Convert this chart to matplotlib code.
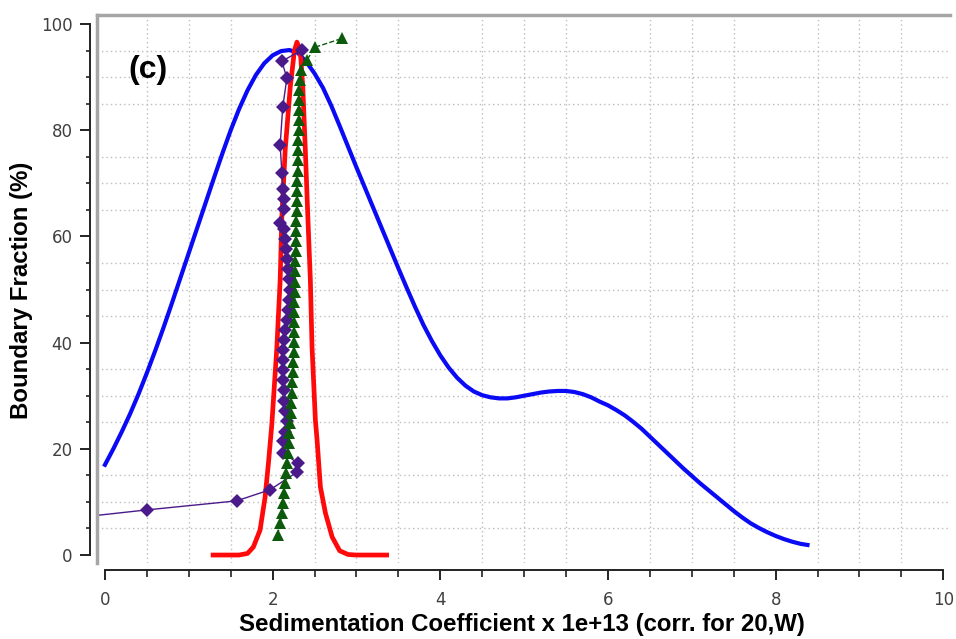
import matplotlib
matplotlib.use("Agg")
import matplotlib.pyplot as plt
from matplotlib.ticker import MultipleLocator
from matplotlib.lines import Line2D

# ---------------- data ----------------
blue_x = [0.0, 0.1, 0.2, 0.3, 0.4, 0.5, 0.6, 0.7, 0.8, 0.9, 1.0, 1.1, 1.2, 1.3, 1.4,
          1.5, 1.6, 1.7, 1.8, 1.9, 2.0, 2.1, 2.2, 2.3, 2.4, 2.5, 2.6, 2.7, 2.8, 2.9,
          3.0, 3.1, 3.2, 3.3, 3.4, 3.5, 3.6, 3.7, 3.8, 3.9, 4.0, 4.1, 4.2, 4.3, 4.4,
          4.5, 4.6, 4.7, 4.8, 4.9, 5.0, 5.1, 5.2, 5.3, 5.4, 5.5, 5.6, 5.7, 5.8, 5.9,
          6.0, 6.1, 6.2, 6.3, 6.4, 6.5, 6.6, 6.7, 6.8, 6.9, 7.0, 7.1, 7.2, 7.3, 7.4,
          7.5, 7.6, 7.7, 7.8, 7.9, 8.0, 8.1, 8.2, 8.3, 8.38]
blue_y = [17.0, 20.0, 23.2, 26.6, 30.3, 34.3, 38.5, 42.9, 47.5, 52.2, 56.9, 61.6, 66.3,
          71.0, 75.6, 80.0, 84.0, 87.5, 90.4, 92.6, 94.1, 94.9, 95.1, 94.6, 92.9, 90.7,
          88.0, 84.6, 80.8, 76.9, 73.0, 69.2, 65.4, 61.6, 57.8, 54.0, 50.3, 46.7, 43.3,
          40.3, 37.6, 35.3, 33.4, 31.9, 30.8, 30.1, 29.7, 29.5, 29.5, 29.7, 30.0, 30.3,
          30.6, 30.8, 30.9, 30.9, 30.7, 30.3, 29.7, 28.9, 28.2, 27.3, 26.3, 25.1, 23.8,
          22.3, 20.8, 19.3, 17.8, 16.3, 14.9, 13.5, 12.2, 10.9, 9.6, 8.3, 7.1, 6.0, 5.1,
          4.3, 3.6, 3.0, 2.5, 2.1, 1.9]

red_x = [1.29, 1.60, 1.70, 1.77, 1.85, 1.91, 1.95, 1.99, 2.05, 2.09, 2.11, 2.15, 2.21,
         2.26, 2.29, 2.33, 2.36, 2.39, 2.42, 2.45, 2.47, 2.51, 2.53, 2.57, 2.63, 2.71,
         2.80, 2.90, 3.00, 3.36]
red_y = [0.0, 0.0, 0.3, 1.5, 4.7, 10.9, 17.3, 24.5, 39.0, 51.8, 63.7, 76.3, 88.1,
         95.0, 96.6, 95.0, 88.1, 76.3, 63.7, 51.8, 39.2, 25.4, 21.7, 12.8, 7.9, 3.4,
         0.8, 0.1, 0.0, 0.0]

purple_x = [-1.0, 0.5, 1.57, 1.97, 2.29, 2.30, 2.12, 2.12, 2.15, 2.17, 2.15, 2.14, 2.13,
            2.12, 2.12, 2.12, 2.12, 2.13, 2.15, 2.17, 2.18, 2.20, 2.21, 2.19, 2.18, 2.17,
            2.16, 2.15, 2.14, 2.09, 2.14, 2.13, 2.12, 2.11, 2.09, 2.12, 2.17, 2.11, 2.35]
purple_y = [5.9, 8.5, 10.2, 12.3, 15.6, 17.3, 19.3, 21.4, 23.2, 25.2, 27.1, 29.0, 31.0,
            32.9, 34.8, 36.7, 38.6, 40.5, 42.4, 44.3, 46.2, 48.1, 50.0, 52.0, 53.8, 55.7,
            57.6, 59.5, 61.4, 62.5, 65.2, 67.1, 69.0, 72.0, 77.2, 84.3, 89.8, 93.0, 95.1]

green_x = [2.06, 2.09, 2.11, 2.12, 2.13, 2.15, 2.16, 2.17, 2.18, 2.19, 2.20, 2.21, 2.22,
           2.22, 2.23, 2.23, 2.24, 2.24, 2.25, 2.25, 2.25, 2.26, 2.26, 2.26, 2.27, 2.27,
           2.27, 2.27, 2.28, 2.28, 2.28, 2.28, 2.29, 2.29, 2.29, 2.29, 2.30, 2.30, 2.30,
           2.30, 2.31, 2.31, 2.31, 2.32, 2.32, 2.33, 2.34, 2.41, 2.50, 2.83]
green_y = [3.8, 6.0, 7.9, 9.8, 11.6, 13.5, 15.4, 17.3, 19.2, 21.1, 23.0, 24.9, 26.8,
           28.7, 30.6, 32.5, 34.4, 36.3, 38.2, 40.1, 42.0, 43.9, 45.8, 47.7, 49.6, 51.5,
           53.4, 55.3, 57.2, 59.1, 61.0, 62.9, 64.8, 66.7, 68.6, 70.5, 72.4, 74.3, 76.2,
           78.1, 80.0, 81.9, 83.8, 85.7, 87.6, 89.5, 91.4, 93.2, 95.6, 97.3]

x_ticks = [0, 2, 4, 6, 8, 10]
y_ticks = [0, 20, 40, 60, 80, 100]
x_label = "Sedimentation Coefficient x 1e+13 (corr. for 20,W)"
y_label = "Boundary Fraction (%)"
panel_label = "(c)"

# ---------------- figure ----------------
W, H = 956, 639
fig = plt.figure(figsize=(W / 100, H / 100), dpi=100)
ax = fig.add_axes([97 / W, 1 - 563 / H, (950 - 97) / W, (563 - 15) / H])

ax.set_xlim(-0.095, 10.08)
ax.set_ylim(-1.5, 101.7)

ax.plot(blue_x, blue_y, color="#0a0af5", lw=3.0, zorder=3)
ax.plot(red_x, red_y, color="#ff0a0a", lw=3.4, zorder=4)
ax.plot(purple_x, purple_y, color="#4b1a8a", lw=1.0, marker="D", markersize=7,
        markeredgewidth=0, zorder=5)
ax.plot(green_x, green_y, color="#0c5a0c", lw=1.0, ls="--", marker="^", markersize=8.5,
        markeredgewidth=0, zorder=6)

ax.text(0.51, 91.3, panel_label, fontsize=23, fontweight="bold", family="Liberation Sans",
        ha="center", va="center")

# axes styling
ax.xaxis.set_major_locator(MultipleLocator(2))
ax.xaxis.set_minor_locator(MultipleLocator(0.5))
ax.yaxis.set_major_locator(MultipleLocator(20))
ax.yaxis.set_minor_locator(MultipleLocator(5))
ax.set_xticks(x_ticks)
ax.set_yticks(y_ticks)
ax.grid(which="minor", linestyle=(0, (1, 2.2)), color="#bdbdbd", lw=1.0)
ax.grid(which="major", visible=False)

ax.spines["right"].set_visible(False)
ax.spines["top"].set_color("#a6a6a6")
ax.spines["top"].set_linewidth(2.5)
ax.spines["left"].set_position(("outward", 5))
ax.spines["bottom"].set_position(("outward", 5))
ax.spines["left"].set_bounds(0, 100)
ax.spines["bottom"].set_bounds(0, 10)
for s in ("left", "bottom"):
    ax.spines[s].set_color("#222222")
    ax.spines[s].set_linewidth(1.4)

ax.add_line(Line2D([0, 0], [0, 1], transform=ax.transAxes, color="#a6a6a6", lw=2.5,
                   clip_on=False, zorder=10))

ax.tick_params(axis="x", which="major", length=7, width=1.4, color="#222222", pad=8.5,
               labelsize=12, labelcolor="#404040", direction="out")
ax.tick_params(axis="x", which="minor", length=5, width=1.2, color="#222222", direction="out")
ax.tick_params(axis="y", which="major", length=7, width=1.4, color="#222222", pad=5.5,
               labelsize=12, labelcolor="#404040", direction="out")
ax.tick_params(axis="y", which="minor", length=3, width=1.2, color="#222222", direction="out")
for lab in ax.get_xticklabels() + ax.get_yticklabels():
    lab.set_family("DejaVu Sans")

fig.text(522 / W, 1 - 625 / H, x_label, fontsize=17.3, fontweight="bold",
         family="Liberation Sans", ha="center", va="center")
fig.text(22 / W, 1 - 290 / H, y_label, fontsize=17.3, fontweight="bold",
         family="Liberation Sans", ha="center", va="center", rotation=90)

fig.savefig("out.png", dpi=100, facecolor="white")
